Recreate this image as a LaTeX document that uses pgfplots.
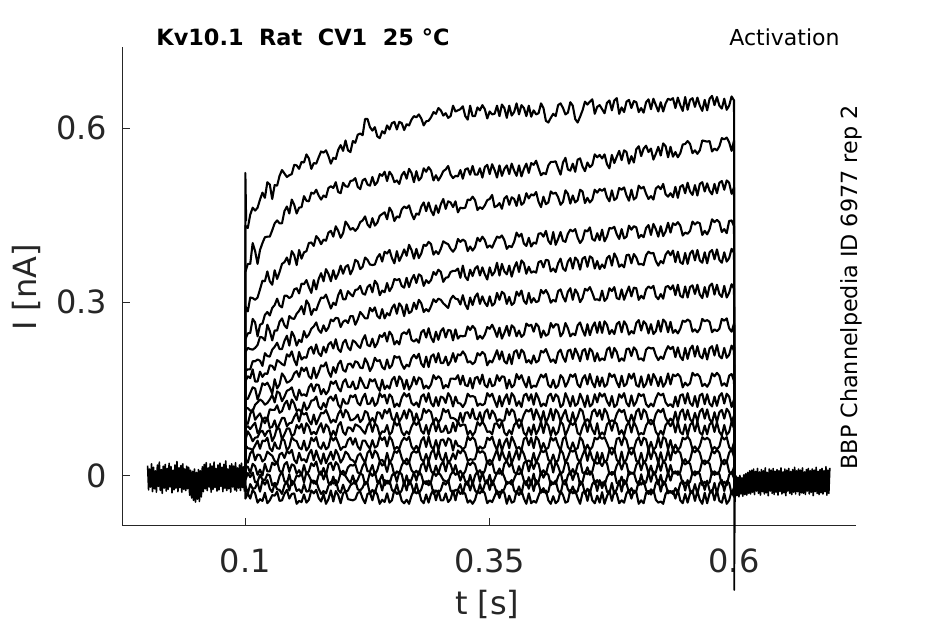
\documentclass[border=0pt]{standalone}
\usepackage{fontspec}
\setmainfont{DejaVu Sans}
\usepackage{pgfplots}
\usepackage{pgfplotstable}
\pgfplotsset{compat=1.18}
\definecolor{axgray}{HTML}{262626}

\pgfplotstableread{
t T1 T2 T3 T4 T5 T6 T7 T8 T9 T10 T11 T12 T13 T14 T15 T16 T17 T18
0.0999 0 0 0 0 0 0 0 0 0 0 0 0 0 0 0 0 0 0
0.100 0.432 0.352 0.293 0.236 0.214 0.181 0.163 0.134 0.118 0.094 0.083 0.062 0.053 0.029 0.016 -0.007 -0.016 -0.039
0.1025 0.428 0.366 0.284 0.246 0.221 0.184 0.172 0.133 0.117 0.090 0.086 0.077 0.048 0.023 0.016 0.005 -0.031 -0.030
0.105 0.451 0.366 0.308 0.247 0.219 0.184 0.169 0.143 0.113 0.107 0.081 0.070 0.047 0.039 0.005 -0.002 -0.014 -0.039
0.1075 0.463 0.402 0.307 0.271 0.218 0.198 0.184 0.153 0.112 0.115 0.087 0.060 0.045 0.044 0.021 0.006 -0.022 -0.024
0.110 0.458 0.388 0.304 0.265 0.221 0.198 0.163 0.151 0.123 0.097 0.092 0.066 0.053 0.027 0.017 -0.011 -0.021 -0.030
0.1125 0.463 0.366 0.308 0.241 0.226 0.201 0.163 0.132 0.127 0.103 0.074 0.067 0.061 0.037 0.002 -0.010 -0.011 -0.046
0.115 0.477 0.390 0.322 0.261 0.240 0.199 0.180 0.144 0.132 0.108 0.080 0.076 0.047 0.036 0.011 0.002 -0.027 -0.040
0.1175 0.489 0.402 0.337 0.263 0.239 0.190 0.171 0.160 0.129 0.097 0.099 0.078 0.061 0.025 0.001 -0.006 -0.008 -0.043
0.120 0.480 0.412 0.336 0.278 0.234 0.212 0.177 0.157 0.123 0.101 0.091 0.069 0.060 0.029 0.021 -0.007 -0.015 -0.029
0.1225 0.507 0.413 0.353 0.283 0.261 0.207 0.176 0.161 0.126 0.099 0.101 0.077 0.066 0.042 0.008 0.003 -0.007 -0.047
0.125 0.503 0.413 0.336 0.277 0.250 0.206 0.191 0.153 0.132 0.115 0.083 0.079 0.048 0.038 0.008 0.001 -0.022 -0.042
0.1275 0.478 0.424 0.330 0.290 0.234 0.218 0.190 0.142 0.140 0.114 0.085 0.060 0.043 0.035 0.023 -0.016 -0.028 -0.033
0.130 0.502 0.436 0.355 0.295 0.251 0.223 0.183 0.167 0.127 0.114 0.096 0.069 0.058 0.026 0.019 -0.012 -0.013 -0.034
0.1325 0.501 0.441 0.340 0.306 0.251 0.230 0.200 0.151 0.146 0.122 0.080 0.084 0.048 0.021 0.025 -0.015 -0.023 -0.027
0.135 0.518 0.436 0.352 0.294 0.266 0.219 0.197 0.158 0.143 0.109 0.090 0.081 0.047 0.037 0.009 0.000 -0.024 -0.043
0.1375 0.528 0.436 0.366 0.291 0.272 0.219 0.193 0.177 0.129 0.112 0.100 0.063 0.065 0.040 0.005 0.008 -0.031 -0.042
0.140 0.522 0.457 0.369 0.311 0.260 0.233 0.191 0.171 0.137 0.124 0.100 0.072 0.061 0.031 0.020 -0.009 -0.016 -0.031
0.1425 0.516 0.465 0.377 0.311 0.255 0.242 0.210 0.161 0.147 0.130 0.086 0.082 0.044 0.043 0.024 -0.013 -0.009 -0.024
0.145 0.519 0.453 0.365 0.307 0.276 0.225 0.206 0.163 0.149 0.115 0.091 0.082 0.050 0.039 0.007 0.003 -0.025 -0.039
0.1475 0.521 0.477 0.388 0.310 0.272 0.249 0.215 0.167 0.153 0.132 0.092 0.069 0.067 0.045 0.020 -0.016 -0.008 -0.031
0.150 0.537 0.468 0.381 0.322 0.271 0.241 0.200 0.177 0.139 0.125 0.102 0.072 0.062 0.028 0.018 -0.010 -0.012 -0.030
0.1525 0.536 0.453 0.364 0.324 0.280 0.225 0.191 0.181 0.131 0.112 0.109 0.088 0.060 0.022 0.004 0.001 -0.026 -0.048
0.155 0.530 0.463 0.390 0.315 0.285 0.235 0.214 0.171 0.149 0.115 0.094 0.082 0.049 0.040 0.010 -0.001 -0.023 -0.043
0.1575 0.542 0.464 0.375 0.332 0.293 0.231 0.201 0.187 0.139 0.110 0.110 0.090 0.046 0.027 0.001 0.005 -0.029 -0.045
0.160 0.541 0.483 0.386 0.331 0.279 0.250 0.205 0.181 0.141 0.127 0.106 0.074 0.061 0.029 0.019 -0.011 -0.014 -0.032
0.1625 0.555 0.475 0.388 0.338 0.303 0.239 0.204 0.187 0.138 0.114 0.109 0.091 0.044 0.024 0.003 0.007 -0.027 -0.046
0.165 0.548 0.474 0.402 0.326 0.296 0.244 0.219 0.172 0.153 0.119 0.096 0.085 0.050 0.038 0.008 0.001 -0.026 -0.041
0.1675 0.530 0.489 0.403 0.316 0.278 0.254 0.223 0.168 0.159 0.130 0.089 0.072 0.066 0.045 0.022 -0.009 -0.007 -0.025
0.170 0.540 0.487 0.397 0.338 0.288 0.258 0.211 0.187 0.146 0.131 0.106 0.076 0.060 0.027 0.017 -0.008 -0.013 -0.030
0.1725 0.539 0.494 0.414 0.322 0.286 0.265 0.227 0.169 0.158 0.137 0.089 0.072 0.067 0.044 0.025 -0.014 -0.009 -0.024
0.175 0.550 0.484 0.409 0.340 0.298 0.252 0.212 0.179 0.157 0.120 0.099 0.083 0.051 0.031 0.007 0.002 -0.022 -0.038
0.1775 0.560 0.477 0.400 0.350 0.308 0.247 0.207 0.191 0.141 0.115 0.109 0.091 0.047 0.021 0.002 0.008 -0.031 -0.044
0.180 0.558 0.484 0.408 0.336 0.307 0.260 0.223 0.189 0.150 0.126 0.108 0.075 0.058 0.039 0.014 -0.006 -0.026 -0.031
0.1825 0.562 0.481 0.406 0.357 0.313 0.250 0.213 0.196 0.141 0.118 0.114 0.089 0.046 0.022 0.001 0.006 -0.030 -0.048
0.185 0.552 0.497 0.420 0.349 0.301 0.256 0.227 0.180 0.147 0.133 0.104 0.084 0.050 0.032 0.020 -0.012 -0.017 -0.040
0.1875 0.539 0.500 0.423 0.336 0.289 0.270 0.231 0.171 0.163 0.137 0.092 0.068 0.068 0.042 0.023 -0.015 -0.010 -0.025
0.190 0.549 0.497 0.413 0.355 0.299 0.267 0.220 0.188 0.159 0.130 0.097 0.078 0.061 0.028 0.010 -0.001 -0.013 -0.044
0.1925 0.547 0.507 0.431 0.340 0.295 0.273 0.236 0.178 0.164 0.140 0.093 0.070 0.067 0.045 0.024 -0.016 -0.007 -0.026
0.195 0.563 0.490 0.423 0.349 0.312 0.272 0.219 0.193 0.152 0.123 0.107 0.087 0.057 0.037 0.019 -0.010 -0.024 -0.033
0.1975 0.571 0.488 0.411 0.363 0.321 0.257 0.214 0.199 0.146 0.117 0.114 0.093 0.045 0.023 0.004 0.005 -0.029 -0.047
0.200 0.561 0.506 0.419 0.349 0.305 0.266 0.230 0.183 0.162 0.133 0.101 0.076 0.050 0.030 0.009 0.003 -0.015 -0.030
0.2025 0.579 0.500 0.439 0.361 0.305 0.269 0.235 0.180 0.167 0.125 0.114 0.071 0.050 0.042 0.003 0.000 -0.028 -0.026
0.205 0.562 0.499 0.433 0.364 0.319 0.264 0.222 0.193 0.154 0.125 0.109 0.084 0.062 0.038 0.015 -0.007 -0.025 -0.040
0.2075 0.559 0.509 0.425 0.348 0.314 0.276 0.217 0.194 0.153 0.139 0.096 0.083 0.066 0.029 0.019 -0.012 -0.016 -0.041
0.210 0.578 0.510 0.428 0.357 0.310 0.276 0.234 0.187 0.163 0.136 0.097 0.077 0.054 0.027 0.018 0.001 -0.013 -0.042
0.2125 0.575 0.514 0.423 0.373 0.321 0.261 0.231 0.198 0.150 0.140 0.100 0.089 0.065 0.022 0.020 -0.014 -0.008 -0.040
0.215 0.589 0.499 0.428 0.370 0.322 0.270 0.225 0.196 0.152 0.126 0.106 0.087 0.051 0.035 0.006 -0.006 -0.023 -0.029
0.2175 0.591 0.495 0.438 0.357 0.328 0.283 0.221 0.187 0.170 0.122 0.093 0.084 0.045 0.039 0.004 0.004 -0.025 -0.027
0.220 0.588 0.510 0.441 0.361 0.315 0.278 0.235 0.186 0.161 0.135 0.098 0.078 0.061 0.030 0.017 0.002 -0.020 -0.039
0.2225 0.616 0.513 0.448 0.377 0.313 0.272 0.243 0.203 0.152 0.142 0.112 0.073 0.061 0.023 0.024 -0.015 -0.010 -0.047
0.225 0.616 0.503 0.434 0.373 0.326 0.272 0.226 0.195 0.152 0.124 0.109 0.087 0.053 0.040 0.008 -0.010 -0.012 -0.031
0.2275 0.602 0.501 0.429 0.365 0.330 0.290 0.224 0.181 0.167 0.125 0.093 0.093 0.047 0.045 0.008 0.006 -0.031 -0.029
0.230 0.596 0.516 0.445 0.364 0.317 0.284 0.237 0.189 0.163 0.135 0.100 0.076 0.062 0.031 0.019 0.000 -0.024 -0.042
0.2325 0.602 0.502 0.432 0.365 0.337 0.291 0.222 0.204 0.167 0.121 0.092 0.091 0.049 0.044 0.002 0.007 -0.030 -0.025
0.235 0.586 0.507 0.437 0.377 0.331 0.276 0.229 0.198 0.154 0.126 0.110 0.086 0.052 0.039 0.010 -0.011 -0.015 -0.032
0.2375 0.583 0.521 0.449 0.383 0.312 0.272 0.243 0.200 0.147 0.143 0.109 0.070 0.068 0.026 0.025 -0.007 -0.009 -0.048
0.240 0.595 0.518 0.452 0.370 0.320 0.288 0.240 0.188 0.166 0.136 0.099 0.077 0.062 0.028 0.018 0.002 -0.025 -0.041
0.2425 0.591 0.525 0.455 0.387 0.317 0.272 0.247 0.184 0.150 0.140 0.114 0.076 0.067 0.021 0.022 -0.016 -0.007 -0.045
0.245 0.605 0.509 0.443 0.384 0.333 0.281 0.232 0.201 0.156 0.125 0.108 0.088 0.051 0.040 0.007 -0.008 -0.013 -0.030
0.2475 0.598 0.525 0.463 0.390 0.319 0.277 0.249 0.186 0.151 0.141 0.116 0.071 0.068 0.023 0.025 -0.014 -0.008 -0.046
0.250 0.609 0.519 0.456 0.376 0.326 0.290 0.243 0.191 0.166 0.136 0.099 0.076 0.062 0.029 0.019 0.001 -0.024 -0.042
0.2525 0.611 0.507 0.440 0.367 0.340 0.296 0.227 0.207 0.171 0.119 0.095 0.094 0.046 0.043 0.001 0.005 -0.028 -0.024
0.255 0.598 0.510 0.448 0.388 0.338 0.280 0.233 0.204 0.155 0.125 0.109 0.087 0.050 0.040 0.008 -0.010 -0.014 -0.031
0.2575 0.611 0.504 0.446 0.371 0.340 0.298 0.227 0.206 0.172 0.120 0.094 0.092 0.047 0.046 0.004 0.007 -0.031 -0.027
0.260 0.609 0.519 0.460 0.380 0.328 0.292 0.245 0.193 0.166 0.135 0.101 0.076 0.060 0.031 0.018 0.003 -0.025 -0.043
0.2625 0.597 0.525 0.465 0.391 0.325 0.276 0.248 0.185 0.150 0.143 0.113 0.070 0.066 0.022 0.026 -0.016 -0.010 -0.047
0.265 0.607 0.513 0.462 0.380 0.342 0.296 0.245 0.192 0.166 0.137 0.099 0.077 0.062 0.030 0.020 0.001 -0.025 -0.041
0.2675 0.605 0.530 0.467 0.399 0.326 0.281 0.253 0.189 0.149 0.142 0.115 0.072 0.068 0.023 0.024 -0.015 -0.007 -0.048
0.270 0.615 0.523 0.453 0.390 0.339 0.284 0.235 0.203 0.157 0.126 0.110 0.085 0.051 0.039 0.010 -0.006 -0.015 -0.034
0.2725 0.621 0.507 0.443 0.375 0.347 0.299 0.232 0.209 0.171 0.122 0.092 0.093 0.045 0.043 0.005 0.006 -0.029 -0.024
0.275 0.619 0.526 0.453 0.392 0.333 0.288 0.236 0.203 0.158 0.127 0.108 0.088 0.052 0.040 0.009 -0.008 -0.013 -0.030
0.2775 0.624 0.510 0.451 0.376 0.348 0.304 0.230 0.211 0.170 0.119 0.095 0.094 0.044 0.045 0.002 0.008 -0.030 -0.026
0.280 0.617 0.515 0.465 0.384 0.345 0.298 0.248 0.194 0.167 0.137 0.098 0.078 0.061 0.029 0.019 0.002 -0.023 -0.042
0.2825 0.605 0.531 0.472 0.399 0.328 0.283 0.252 0.188 0.151 0.141 0.116 0.073 0.067 0.025 0.023 -0.013 -0.009 -0.047
0.285 0.612 0.525 0.457 0.397 0.338 0.288 0.239 0.206 0.156 0.128 0.109 0.088 0.050 0.038 0.008 -0.009 -0.014 -0.032
0.2875 0.613 0.533 0.472 0.404 0.333 0.284 0.255 0.188 0.151 0.143 0.114 0.071 0.068 0.024 0.026 -0.016 -0.008 -0.046
0.290 0.619 0.527 0.458 0.400 0.338 0.293 0.239 0.206 0.158 0.126 0.110 0.087 0.051 0.040 0.009 -0.010 -0.013 -0.031
0.2925 0.628 0.510 0.450 0.382 0.352 0.305 0.231 0.210 0.174 0.120 0.093 0.094 0.046 0.046 0.003 0.007 -0.031 -0.024
0.295 0.625 0.519 0.467 0.388 0.347 0.300 0.249 0.196 0.167 0.136 0.100 0.077 0.062 0.029 0.018 0.000 -0.025 -0.042
0.2975 0.635 0.510 0.454 0.383 0.356 0.306 0.235 0.212 0.172 0.121 0.092 0.091 0.045 0.045 0.004 0.006 -0.029 -0.025
0.300 0.631 0.517 0.469 0.392 0.352 0.304 0.250 0.195 0.168 0.137 0.099 0.076 0.062 0.030 0.019 0.001 -0.024 -0.042
0.3025 0.622 0.526 0.478 0.405 0.335 0.298 0.255 0.195 0.151 0.135 0.116 0.077 0.063 0.025 0.025 -0.007 -0.011 -0.042
0.305 0.626 0.529 0.461 0.402 0.342 0.294 0.239 0.206 0.157 0.126 0.110 0.087 0.052 0.040 0.008 -0.009 -0.015 -0.030
0.3075 0.618 0.535 0.474 0.400 0.343 0.290 0.252 0.191 0.153 0.143 0.114 0.074 0.065 0.022 0.026 -0.011 -0.007 -0.045
0.310 0.621 0.520 0.472 0.392 0.352 0.305 0.251 0.198 0.168 0.136 0.100 0.076 0.062 0.028 0.020 0.002 -0.025 -0.040
0.3125 0.639 0.514 0.464 0.387 0.354 0.311 0.234 0.212 0.168 0.120 0.100 0.092 0.044 0.039 0.006 0.008 -0.029 -0.025
0.315 0.629 0.518 0.474 0.393 0.354 0.306 0.253 0.197 0.167 0.137 0.098 0.077 0.061 0.029 0.019 0.002 -0.024 -0.042
0.3175 0.631 0.517 0.455 0.409 0.358 0.305 0.237 0.210 0.174 0.126 0.092 0.094 0.052 0.044 0.003 0.006 -0.024 -0.024
0.320 0.633 0.528 0.463 0.404 0.342 0.296 0.242 0.208 0.158 0.125 0.109 0.086 0.051 0.039 0.009 -0.008 -0.014 -0.031
0.3225 0.638 0.513 0.462 0.408 0.363 0.312 0.241 0.215 0.173 0.119 0.093 0.089 0.046 0.046 0.002 0.004 -0.031 -0.027
0.325 0.621 0.529 0.463 0.405 0.344 0.296 0.242 0.209 0.157 0.126 0.109 0.088 0.050 0.040 0.008 -0.009 -0.013 -0.031
0.3275 0.615 0.531 0.477 0.388 0.338 0.288 0.258 0.196 0.155 0.142 0.110 0.071 0.068 0.026 0.023 -0.016 -0.009 -0.046
0.330 0.639 0.520 0.476 0.396 0.356 0.308 0.252 0.198 0.169 0.137 0.100 0.078 0.062 0.029 0.019 0.002 -0.025 -0.042
0.3325 0.621 0.535 0.482 0.389 0.345 0.295 0.259 0.193 0.151 0.138 0.116 0.070 0.067 0.028 0.024 -0.015 -0.010 -0.048
0.335 0.621 0.520 0.476 0.395 0.358 0.309 0.254 0.197 0.169 0.136 0.099 0.076 0.062 0.029 0.020 0.001 -0.025 -0.041
0.3375 0.636 0.520 0.459 0.411 0.362 0.315 0.236 0.212 0.171 0.121 0.097 0.093 0.044 0.045 0.005 0.008 -0.030 -0.026
0.340 0.631 0.531 0.464 0.405 0.346 0.297 0.242 0.208 0.159 0.125 0.110 0.087 0.051 0.040 0.010 -0.010 -0.014 -0.030
0.3425 0.640 0.515 0.461 0.413 0.360 0.310 0.237 0.214 0.175 0.122 0.092 0.094 0.047 0.043 0.002 0.007 -0.028 -0.024
0.345 0.633 0.533 0.467 0.407 0.348 0.299 0.244 0.210 0.157 0.125 0.110 0.087 0.050 0.039 0.009 -0.009 -0.014 -0.030
0.3475 0.617 0.537 0.476 0.394 0.339 0.293 0.257 0.191 0.153 0.143 0.115 0.076 0.066 0.022 0.026 -0.013 -0.007 -0.047
0.350 0.629 0.521 0.478 0.398 0.360 0.310 0.254 0.199 0.168 0.137 0.099 0.077 0.062 0.028 0.019 0.002 -0.024 -0.042
0.3525 0.624 0.538 0.485 0.394 0.346 0.294 0.261 0.196 0.155 0.142 0.113 0.072 0.068 0.024 0.024 -0.016 -0.008 -0.045
0.355 0.625 0.528 0.464 0.404 0.352 0.298 0.252 0.206 0.157 0.130 0.107 0.090 0.054 0.035 0.006 -0.005 -0.017 -0.035
0.3575 0.639 0.515 0.466 0.413 0.368 0.316 0.240 0.217 0.174 0.119 0.094 0.091 0.045 0.046 0.004 0.006 -0.031 -0.025
0.360 0.621 0.536 0.471 0.411 0.346 0.304 0.256 0.201 0.164 0.138 0.098 0.083 0.063 0.027 0.013 0.004 -0.027 -0.038
0.3625 0.641 0.518 0.461 0.415 0.366 0.318 0.237 0.215 0.172 0.120 0.095 0.094 0.044 0.044 0.002 0.008 -0.029 -0.024
0.365 0.635 0.530 0.479 0.407 0.353 0.314 0.247 0.198 0.171 0.133 0.096 0.075 0.057 0.032 0.021 -0.002 -0.022 -0.029
0.3675 0.618 0.536 0.483 0.392 0.348 0.297 0.259 0.194 0.151 0.141 0.116 0.070 0.065 0.025 0.026 -0.014 -0.010 -0.048
0.370 0.639 0.521 0.468 0.397 0.363 0.309 0.242 0.210 0.166 0.124 0.105 0.079 0.048 0.042 0.016 -0.011 -0.012 -0.034
0.3725 0.622 0.539 0.481 0.395 0.344 0.295 0.260 0.193 0.153 0.143 0.115 0.072 0.068 0.022 0.023 -0.015 -0.007 -0.046
0.375 0.628 0.527 0.478 0.404 0.359 0.299 0.256 0.214 0.157 0.137 0.111 0.088 0.059 0.033 0.007 -0.005 -0.025 -0.044
0.3775 0.643 0.518 0.466 0.420 0.369 0.318 0.241 0.217 0.176 0.121 0.092 0.093 0.047 0.045 0.003 0.005 -0.030 -0.026
0.380 0.624 0.536 0.485 0.413 0.352 0.311 0.251 0.203 0.167 0.129 0.098 0.083 0.050 0.028 0.017 0.003 -0.018 -0.033
0.3825 0.640 0.517 0.468 0.418 0.372 0.320 0.240 0.218 0.174 0.119 0.093 0.092 0.044 0.046 0.004 0.007 -0.031 -0.025
0.385 0.635 0.530 0.472 0.401 0.367 0.302 0.244 0.213 0.162 0.139 0.106 0.074 0.064 0.038 0.022 -0.008 -0.011 -0.039
0.3875 0.621 0.539 0.488 0.397 0.349 0.297 0.263 0.196 0.153 0.142 0.114 0.070 0.067 0.024 0.026 -0.016 -0.009 -0.048
0.390 0.639 0.523 0.479 0.411 0.361 0.316 0.259 0.200 0.171 0.130 0.111 0.084 0.053 0.027 0.008 -0.002 -0.022 -0.030
0.3925 0.620 0.540 0.486 0.396 0.351 0.299 0.261 0.194 0.152 0.141 0.116 0.071 0.066 0.023 0.025 -0.014 -0.008 -0.047
0.395 0.631 0.537 0.484 0.403 0.353 0.307 0.249 0.208 0.156 0.123 0.097 0.089 0.048 0.040 0.012 0.004 -0.026 -0.043
0.3975 0.624 0.544 0.490 0.401 0.351 0.300 0.263 0.196 0.154 0.143 0.115 0.072 0.068 0.022 0.024 -0.015 -0.007 -0.046
0.400 0.626 0.531 0.473 0.418 0.369 0.302 0.258 0.199 0.165 0.134 0.105 0.080 0.062 0.033 0.021 -0.010 -0.013 -0.034
0.4025 0.643 0.519 0.464 0.419 0.371 0.321 0.239 0.216 0.175 0.120 0.094 0.094 0.045 0.044 0.002 0.008 -0.029 -0.024
0.405 0.635 0.523 0.482 0.413 0.360 0.315 0.251 0.213 0.170 0.125 0.112 0.074 0.057 0.041 0.010 -0.003 -0.021 -0.028
0.4075 0.613 0.521 0.469 0.423 0.373 0.321 0.242 0.219 0.176 0.121 0.092 0.093 0.046 0.045 0.003 0.006 -0.030 -0.025
0.410 0.610 0.536 0.472 0.406 0.372 0.313 0.245 0.208 0.157 0.138 0.101 0.087 0.049 0.028 0.020 0.002 -0.027 -0.042
0.4125 0.618 0.542 0.491 0.400 0.353 0.299 0.264 0.197 0.153 0.142 0.116 0.070 0.067 0.024 0.026 -0.016 -0.009 -0.048
0.415 0.625 0.542 0.487 0.421 0.358 0.304 0.256 0.201 0.166 0.129 0.096 0.084 0.061 0.037 0.006 -0.011 -0.014 -0.035
0.4175 0.621 0.543 0.489 0.399 0.352 0.301 0.262 0.195 0.152 0.141 0.115 0.071 0.066 0.023 0.025 -0.014 -0.008 -0.047
0.420 0.640 0.531 0.481 0.409 0.367 0.319 0.261 0.213 0.156 0.137 0.109 0.076 0.053 0.027 0.017 -0.001 -0.025 -0.043
0.4225 0.643 0.520 0.468 0.421 0.375 0.322 0.241 0.218 0.174 0.119 0.094 0.094 0.044 0.046 0.004 0.007 -0.031 -0.026
0.425 0.635 0.541 0.473 0.406 0.358 0.309 0.247 0.205 0.169 0.123 0.105 0.089 0.064 0.039 0.007 -0.012 -0.011 -0.033
0.4275 0.624 0.549 0.493 0.404 0.354 0.301 0.264 0.197 0.154 0.143 0.114 0.070 0.068 0.022 0.024 -0.015 -0.007 -0.046
0.430 0.627 0.529 0.487 0.418 0.370 0.318 0.255 0.216 0.162 0.133 0.096 0.080 0.050 0.032 0.022 0.001 -0.023 -0.044
0.4325 0.645 0.527 0.470 0.425 0.376 0.324 0.241 0.218 0.175 0.120 0.092 0.092 0.045 0.044 0.002 0.008 -0.029 -0.024
0.435 0.639 0.539 0.484 0.422 0.358 0.304 0.246 0.202 0.171 0.138 0.110 0.088 0.058 0.042 0.012 -0.007 -0.018 -0.030
0.4375 0.616 0.525 0.472 0.426 0.377 0.322 0.243 0.220 0.176 0.121 0.093 0.093 0.046 0.045 0.003 0.006 -0.030 -0.025
0.440 0.610 0.546 0.476 0.411 0.372 0.315 0.260 0.211 0.158 0.125 0.102 0.074 0.048 0.029 0.020 0.004 -0.026 -0.038
0.4425 0.620 0.548 0.494 0.402 0.356 0.300 0.265 0.198 0.153 0.142 0.116 0.071 0.067 0.024 0.026 -0.016 -0.009 -0.048
0.445 0.631 0.534 0.491 0.408 0.375 0.307 0.252 0.216 0.168 0.132 0.112 0.085 0.061 0.036 0.006 -0.010 -0.013 -0.029
0.4475 0.646 0.526 0.471 0.424 0.378 0.323 0.242 0.219 0.174 0.119 0.094 0.094 0.044 0.046 0.004 0.007 -0.031 -0.026
0.450 0.641 0.541 0.480 0.422 0.361 0.320 0.262 0.201 0.158 0.139 0.098 0.076 0.054 0.026 0.015 0.003 -0.022 -0.043
0.4525 0.646 0.533 0.472 0.429 0.379 0.326 0.243 0.220 0.176 0.120 0.092 0.093 0.045 0.044 0.002 0.008 -0.029 -0.024
0.455 0.650 0.537 0.477 0.409 0.376 0.316 0.257 0.215 0.161 0.124 0.111 0.080 0.050 0.030 0.008 0.004 -0.014 -0.042
0.4575 0.625 0.555 0.494 0.406 0.358 0.304 0.265 0.198 0.153 0.141 0.115 0.072 0.066 0.023 0.025 -0.014 -0.008 -0.047
0.460 0.637 0.550 0.489 0.419 0.371 0.305 0.247 0.212 0.172 0.127 0.103 0.091 0.063 0.041 0.021 -0.007 -0.026 -0.034
0.4625 0.640 0.554 0.495 0.407 0.357 0.303 0.266 0.199 0.155 0.143 0.114 0.070 0.068 0.022 0.024 -0.015 -0.007 -0.046
0.465 0.633 0.548 0.492 0.425 0.365 0.320 0.247 0.203 0.170 0.137 0.097 0.075 0.064 0.040 0.017 -0.011 -0.021 -0.028
0.4675 0.626 0.555 0.496 0.405 0.359 0.302 0.267 0.200 0.154 0.142 0.116 0.071 0.067 0.024 0.026 -0.016 -0.009 -0.048
0.470 0.644 0.538 0.481 0.413 0.376 0.307 0.261 0.218 0.158 0.129 0.109 0.089 0.057 0.027 0.022 -0.002 -0.027 -0.035
0.4725 0.648 0.531 0.474 0.428 0.380 0.324 0.245 0.222 0.177 0.121 0.093 0.093 0.046 0.045 0.003 0.006 -0.030 -0.025
0.475 0.631 0.554 0.493 0.427 0.363 0.319 0.252 0.204 0.171 0.138 0.096 0.078 0.049 0.037 0.007 0.002 -0.012 -0.043
0.4775 0.648 0.540 0.476 0.430 0.384 0.326 0.245 0.221 0.175 0.119 0.094 0.094 0.044 0.046 0.004 0.007 -0.031 -0.026
0.480 0.652 0.551 0.480 0.417 0.376 0.307 0.262 0.214 0.162 0.123 0.107 0.090 0.064 0.028 0.018 -0.012 -0.023 -0.031
0.4825 0.625 0.561 0.497 0.409 0.361 0.305 0.266 0.198 0.153 0.141 0.115 0.072 0.066 0.023 0.025 -0.014 -0.008 -0.047
0.485 0.636 0.545 0.494 0.426 0.365 0.322 0.248 0.203 0.173 0.135 0.110 0.079 0.053 0.042 0.011 -0.001 -0.027 -0.042
0.4875 0.628 0.562 0.498 0.410 0.360 0.304 0.267 0.199 0.155 0.143 0.114 0.070 0.068 0.022 0.024 -0.015 -0.007 -0.046
0.490 0.646 0.559 0.484 0.413 0.381 0.316 0.260 0.219 0.159 0.126 0.097 0.087 0.062 0.029 0.021 -0.010 -0.013 -0.030
0.4925 0.649 0.539 0.475 0.432 0.382 0.327 0.244 0.220 0.176 0.120 0.092 0.093 0.045 0.044 0.002 0.008 -0.029 -0.024
0.495 0.635 0.552 0.494 0.425 0.367 0.310 0.250 0.207 0.168 0.139 0.106 0.075 0.049 0.037 0.006 0.004 -0.021 -0.039
0.4975 0.647 0.541 0.477 0.431 0.383 0.325 0.246 0.222 0.177 0.121 0.093 0.093 0.046 0.045 0.003 0.006 -0.030 -0.025
0.500 0.645 0.564 0.481 0.429 0.377 0.324 0.264 0.217 0.157 0.128 0.111 0.085 0.061 0.026 0.019 -0.009 -0.026 -0.028
0.5025 0.628 0.569 0.501 0.411 0.365 0.304 0.269 0.201 0.154 0.142 0.116 0.071 0.067 0.024 0.026 -0.016 -0.009 -0.048
0.505 0.635 0.552 0.496 0.416 0.366 0.311 0.251 0.203 0.172 0.138 0.098 0.074 0.053 0.040 0.010 0.003 -0.015 -0.042
0.5075 0.627 0.565 0.499 0.412 0.364 0.306 0.267 0.199 0.153 0.141 0.115 0.072 0.066 0.023 0.025 -0.014 -0.008 -0.047
0.510 0.645 0.570 0.487 0.428 0.381 0.322 0.262 0.218 0.159 0.124 0.110 0.087 0.063 0.027 0.020 -0.011 -0.024 -0.029
0.5125 0.650 0.559 0.478 0.433 0.387 0.327 0.246 0.222 0.175 0.119 0.094 0.094 0.044 0.046 0.004 0.007 -0.031 -0.026
0.515 0.633 0.565 0.483 0.416 0.384 0.324 0.262 0.220 0.157 0.125 0.097 0.089 0.059 0.029 0.018 -0.010 -0.023 -0.032
0.5175 0.651 0.546 0.477 0.435 0.385 0.328 0.245 0.221 0.176 0.120 0.092 0.093 0.045 0.044 0.002 0.008 -0.029 -0.024
0.520 0.640 0.556 0.496 0.426 0.371 0.310 0.250 0.208 0.168 0.134 0.107 0.076 0.050 0.038 0.006 0.000 -0.012 -0.041
0.5225 0.629 0.568 0.500 0.413 0.363 0.305 0.268 0.200 0.155 0.143 0.114 0.070 0.068 0.022 0.024 -0.015 -0.007 -0.046
0.525 0.645 0.553 0.495 0.431 0.371 0.314 0.249 0.206 0.171 0.139 0.110 0.078 0.049 0.041 0.009 0.002 -0.027 -0.044
0.5275 0.629 0.574 0.504 0.414 0.367 0.306 0.270 0.202 0.154 0.142 0.116 0.071 0.067 0.024 0.026 -0.016 -0.009 -0.048
0.530 0.643 0.569 0.486 0.422 0.382 0.326 0.265 0.215 0.161 0.127 0.100 0.088 0.064 0.028 0.021 -0.009 -0.014 -0.031
0.5325 0.651 0.550 0.482 0.437 0.388 0.328 0.248 0.224 0.177 0.121 0.093 0.093 0.046 0.045 0.003 0.006 -0.030 -0.025
0.535 0.649 0.568 0.488 0.420 0.381 0.322 0.266 0.219 0.158 0.124 0.099 0.086 0.062 0.027 0.019 -0.008 -0.026 -0.029
0.5375 0.652 0.551 0.481 0.436 0.389 0.329 0.247 0.223 0.175 0.119 0.094 0.094 0.044 0.046 0.004 0.007 -0.031 -0.026
0.540 0.635 0.559 0.499 0.433 0.369 0.312 0.252 0.205 0.172 0.137 0.111 0.075 0.054 0.039 0.008 0.004 -0.021 -0.039
0.5425 0.653 0.550 0.480 0.438 0.387 0.330 0.246 0.222 0.176 0.120 0.092 0.093 0.045 0.044 0.002 0.008 -0.029 -0.024
0.545 0.640 0.557 0.499 0.432 0.369 0.311 0.254 0.206 0.171 0.139 0.110 0.076 0.050 0.040 0.007 0.002 -0.013 -0.042
0.5475 0.630 0.572 0.502 0.415 0.366 0.308 0.268 0.200 0.153 0.141 0.115 0.072 0.066 0.023 0.025 -0.014 -0.008 -0.047
0.550 0.654 0.573 0.488 0.420 0.385 0.327 0.266 0.221 0.161 0.125 0.097 0.089 0.063 0.029 0.020 -0.011 -0.025 -0.031
0.5525 0.632 0.578 0.506 0.418 0.366 0.308 0.270 0.202 0.156 0.143 0.114 0.070 0.068 0.022 0.024 -0.015 -0.007 -0.046
0.555 0.649 0.573 0.491 0.423 0.384 0.326 0.267 0.219 0.160 0.126 0.098 0.088 0.062 0.028 0.021 -0.010 -0.026 -0.030
0.5575 0.652 0.557 0.485 0.439 0.389 0.329 0.249 0.225 0.178 0.121 0.093 0.093 0.046 0.045 0.003 0.006 -0.030 -0.025
0.560 0.637 0.562 0.502 0.434 0.372 0.314 0.253 0.206 0.173 0.138 0.109 0.077 0.051 0.041 0.008 0.001 -0.014 -0.043
0.5625 0.653 0.556 0.484 0.438 0.390 0.330 0.248 0.224 0.176 0.119 0.094 0.094 0.044 0.046 0.004 0.007 -0.031 -0.026
0.565 0.639 0.562 0.504 0.436 0.372 0.313 0.254 0.207 0.171 0.139 0.111 0.075 0.052 0.040 0.009 0.003 -0.013 -0.041
0.5675 0.630 0.579 0.507 0.416 0.368 0.307 0.271 0.203 0.155 0.142 0.116 0.071 0.067 0.024 0.026 -0.016 -0.009 -0.048
0.570 0.649 0.578 0.491 0.423 0.386 0.326 0.267 0.220 0.159 0.124 0.099 0.087 0.063 0.027 0.020 -0.010 -0.024 -0.029
0.5725 0.631 0.577 0.505 0.417 0.367 0.309 0.269 0.201 0.154 0.141 0.115 0.072 0.066 0.023 0.025 -0.014 -0.008 -0.047
0.575 0.651 0.578 0.492 0.426 0.386 0.328 0.266 0.220 0.161 0.125 0.098 0.089 0.062 0.029 0.021 -0.011 -0.025 -0.030
0.5775 0.656 0.560 0.486 0.443 0.390 0.332 0.248 0.224 0.177 0.120 0.092 0.093 0.045 0.044 0.002 0.008 -0.029 -0.024
0.580 0.640 0.565 0.504 0.438 0.374 0.313 0.253 0.208 0.172 0.137 0.110 0.076 0.050 0.039 0.008 0.002 -0.012 -0.042
0.5825 0.654 0.562 0.488 0.442 0.391 0.330 0.250 0.226 0.178 0.121 0.093 0.093 0.046 0.045 0.003 0.006 -0.030 -0.025
0.585 0.639 0.569 0.506 0.438 0.373 0.314 0.254 0.207 0.173 0.138 0.110 0.076 0.051 0.040 0.008 0.003 -0.013 -0.043
0.5875 0.634 0.583 0.509 0.421 0.368 0.309 0.271 0.203 0.156 0.143 0.114 0.070 0.068 0.022 0.024 -0.015 -0.007 -0.046
0.590 0.651 0.581 0.494 0.426 0.386 0.328 0.268 0.221 0.160 0.125 0.099 0.088 0.063 0.028 0.020 -0.010 -0.026 -0.030
0.5925 0.632 0.584 0.510 0.419 0.370 0.308 0.272 0.204 0.155 0.142 0.116 0.071 0.067 0.024 0.026 -0.016 -0.009 -0.048
0.595 0.639 0.576 0.506 0.440 0.376 0.316 0.255 0.209 0.173 0.137 0.110 0.076 0.050 0.040 0.007 0.002 -0.012 -0.042
0.5975 0.655 0.561 0.487 0.441 0.392 0.331 0.249 0.225 0.176 0.119 0.094 0.094 0.044 0.046 0.004 0.007 -0.031 -0.026
0.600 0.648 0.579 0.498 0.431 0.385 0.323 0.263 0.216 0.164 0.132 0.104 0.082 0.058 0.033 0.015 -0.004 -0.020 -0.036
0.6003 -0.010 -0.010 -0.010 -0.010 -0.010 -0.010 -0.010 -0.010 -0.010 -0.010 -0.010 -0.010 -0.010 -0.010 -0.010 -0.010 -0.010 -0.010
}\steps

\pgfplotstableread{
t y
0.000 0.018
0.001 -0.024
0.002 0.012
0.003 -0.019
0.004 0.021
0.005 -0.027
0.006 0.015
0.007 -0.022
0.008 0.009
0.009 -0.028
0.010 0.019
0.011 -0.018
0.012 0.024
0.013 -0.025
0.014 0.011
0.015 -0.030
0.016 0.017
0.017 -0.021
0.018 0.020
0.019 -0.026
0.020 0.013
0.021 -0.023
0.022 0.022
0.023 -0.019
0.024 0.016
0.025 -0.029
0.026 0.010
0.027 -0.024
0.028 0.019
0.029 -0.021
0.030 0.025
0.031 -0.027
0.032 0.014
0.033 -0.020
0.034 0.018
0.035 -0.028
0.036 0.021
0.037 -0.023
0.038 0.012
0.039 -0.025
0.040 0.017
0.041 -0.022
0.042 0.015
0.043 -0.033
0.044 0.010
0.045 -0.038
0.046 0.008
0.047 -0.042
0.048 0.012
0.049 -0.045
0.050 0.006
0.051 -0.040
0.052 0.011
0.053 -0.044
0.054 0.009
0.055 -0.036
0.056 0.016
0.057 -0.027
0.058 0.020
0.059 -0.022
0.060 0.023
0.061 -0.025
0.062 0.014
0.063 -0.019
0.064 0.021
0.065 -0.028
0.066 0.017
0.067 -0.023
0.068 0.024
0.069 -0.020
0.070 0.013
0.071 -0.026
0.072 0.019
0.073 -0.024
0.074 0.022
0.075 -0.018
0.076 0.015
0.077 -0.027
0.078 0.020
0.079 -0.021
0.080 0.026
0.081 -0.025
0.082 0.012
0.083 -0.022
0.084 0.018
0.085 -0.028
0.086 0.021
0.087 -0.019
0.088 0.017
0.089 -0.024
0.090 0.023
0.091 -0.026
0.092 0.014
0.093 -0.021
0.094 0.019
0.095 -0.025
0.096 0.022
0.097 -0.020
0.098 0.016
0.099 -0.027
}\preband

\pgfplotstableread{
t y
0.6000 0.000
0.6002 -0.197
0.601 -0.030
0.602 0.000
0.603 -0.034
0.604 -0.002
0.605 -0.036
0.606 0.001
0.607 -0.031
0.608 -0.003
0.609 -0.035
0.610 0.002
0.611 -0.032
0.612 0.004
0.613 -0.033
0.614 0.006
0.615 -0.030
0.616 0.009
0.617 -0.031
0.618 0.010
0.619 -0.028
0.620 0.012
0.621 -0.032
0.622 0.008
0.623 -0.026
0.624 0.013
0.625 -0.030
0.626 0.007
0.627 -0.033
0.628 0.011
0.629 -0.027
0.630 0.009
0.631 -0.031
0.632 0.014
0.633 -0.029
0.634 0.006
0.635 -0.034
0.636 0.012
0.637 -0.026
0.638 0.010
0.639 -0.030
0.640 0.013
0.641 -0.032
0.642 0.008
0.643 -0.028
0.644 0.011
0.645 -0.033
0.646 0.009
0.647 -0.027
0.648 0.014
0.649 -0.031
0.650 0.007
0.651 -0.029
0.652 0.012
0.653 -0.034
0.654 0.010
0.655 -0.026
0.656 0.013
0.657 -0.030
0.658 0.008
0.659 -0.032
0.660 0.011
0.661 -0.028
0.662 0.015
0.663 -0.031
0.664 0.009
0.665 -0.027
0.666 0.012
0.667 -0.033
0.668 0.010
0.669 -0.029
0.670 0.014
0.671 -0.030
0.672 0.007
0.673 -0.032
0.674 0.011
0.675 -0.026
0.676 0.013
0.677 -0.031
0.678 0.009
0.679 -0.028
0.680 0.012
0.681 -0.034
0.682 0.010
0.683 -0.027
0.684 0.015
0.685 -0.030
0.686 0.008
0.687 -0.032
0.688 0.011
0.689 -0.029
0.690 0.013
0.691 -0.031
0.692 0.009
0.693 -0.027
0.694 0.016
0.695 -0.033
0.696 0.010
0.697 -0.030
0.698 0.014
}\postband

\begin{document}
\begin{tikzpicture}
\begin{axis}[
  at={(0,0)}, anchor=south west,
  scale only axis, width=366.85pt, height=239.5pt,
  xmin=-0.0259, xmax=0.7248, ymin=-0.0863, ymax=0.7403,
  axis x line=bottom, axis y line=left,
  axis line style={-, draw=axgray, line width=0.5pt},
  tick align=inside, major tick length=4pt,
  tick style={draw=axgray, line width=0.5pt},
  xtick={0.1,0.35,0.6}, ytick={0,0.3,0.6},
  xticklabels={0.1,0.35,0.6}, yticklabels={0,0.3,0.6},
  ticklabel style={font=\fontsize{16}{19}\selectfont, text=axgray, inner sep=0pt},
  xticklabel style={anchor=base, yshift=-23.15pt},
  yticklabel style={anchor=east, xshift=-7.4pt},
  clip=false,
  trace/.style={black, line width=1.05pt, line join=round, mark=none},
]
\addplot[trace, line width=0.8pt] table[x=t, y=y] {\preband};
\addplot[trace, line width=0.8pt] table[x=t, y=y] {\postband};
\pgfplotsinvokeforeach{1,...,18}{
  \addplot[trace] table[x=t, y=T#1] {\steps};
}
\addplot[trace] coordinates {(0.1,0.0) (0.1,0.523) (0.1008,0.440)};
\end{axis}
\node[anchor=base west, inner sep=0pt, font=\bfseries\fontsize{11.2}{13}\selectfont] at (16.85pt,240pt) {Kv10.1~~Rat~~CV1~~25~°C};
\node[anchor=base east, inner sep=0pt, font=\fontsize{11}{13}\selectfont] at (358.8pt,240pt) {Activation};
\node[anchor=base west, inner sep=0pt, rotate=90, font=\fontsize{11.15}{13}\selectfont] at (367.35pt,28pt) {BBP Channelpedia ID 6977 rep 2};
\node[anchor=base, font=\fontsize{16}{19}\selectfont, text=axgray] at (182.5pt,-44.15pt) {t [s]};
\node[anchor=base, rotate=90, font=\fontsize{16}{19}\selectfont, text=axgray] at (-42.65pt,119.25pt) {I [nA]};
\pgfresetboundingbox
\path[use as bounding box] (-61.15pt,-49pt) rectangle (411.35pt,263pt);
\end{tikzpicture}
\end{document}
